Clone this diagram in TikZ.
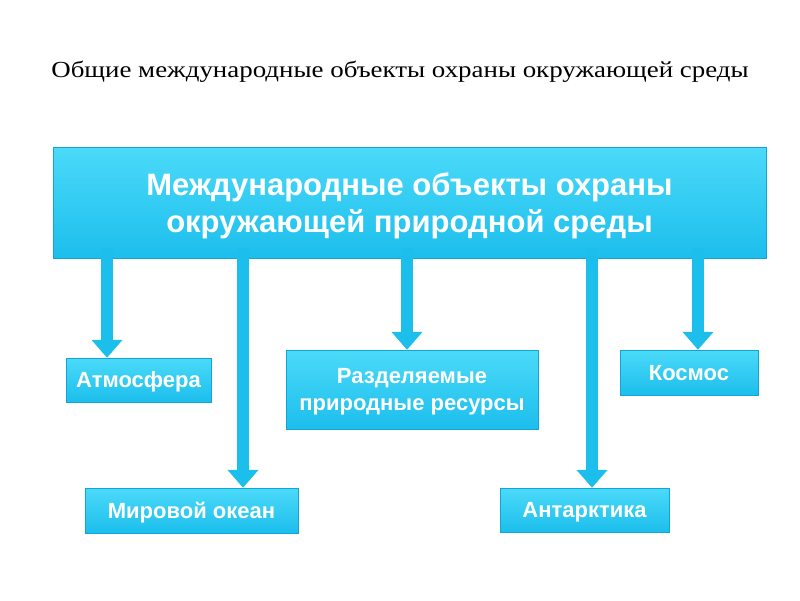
\documentclass[tikz,border=0pt]{standalone}
\usepackage{fontspec}
\setmainfont{Liberation Serif}
\setsansfont{Liberation Sans}
\usetikzlibrary{arrows.meta}
\definecolor{boxcyan}{RGB}{28,190,236}
\definecolor{boxlight}{RGB}{75,218,249}
\definecolor{boxdark}{RGB}{20,165,215}
\tikzset{ obj_box/.style = {rectangle, draw=boxdark, top color=boxlight, bottom color=boxcyan, text=white, font=\sffamily\bfseries\fontsize{22}{27}\selectfont, align=center, inner sep=0pt, text depth=0pt} }
\tikzset{ down_arrow/.style = {draw=boxcyan, line width=12pt, -{Triangle[width=30pt,length=18pt]}} }

\begin{document}
\begin{tikzpicture}[x=1pt,y=-1pt]
    \useasboundingbox (0,0) rectangle (800,600);
    \node[font=\fontsize{23}{27}\selectfont] (T) at (400, 72) {\scalebox{1.17}[1]{Общие международные объекты охраны окружающей среды}};
    \node[obj_box, minimum width=713pt, minimum height=111pt, font=\sffamily\bfseries\fontsize{31}{37}\selectfont] (M) at (409.5, 202.5) {Международные объекты охраны\\окружающей природной среды};
    \node[obj_box, minimum width=145pt, minimum height=44pt] (A) at (138.5, 380) {Атмосфера};
    \node[obj_box, minimum width=252pt, minimum height=79pt] (R) at (412, 389.5) {Разделяемые\\природные ресурсы};
    \node[obj_box, minimum width=138pt, minimum height=45pt] (K) at (689, 372.5) {Космос};
    \node[obj_box, minimum width=213pt, minimum height=45pt] (O) at (191.5, 510.5) {Мировой океан};
    \node[obj_box, minimum width=169pt, minimum height=44pt] (N) at (584.5, 510) {Антарктика};
    \coordinate (a1) at (107, 0);
    \coordinate (a2) at (243, 0);
    \coordinate (a3) at (407, 0);
    \coordinate (a4) at (592, 0);
    \coordinate (a5) at (698, 0);
    \draw[down_arrow] ([yshift=10pt]M.south -| a1) to (A.north -| a1);
    \draw[down_arrow] ([yshift=10pt]M.south -| a2) to (O.north -| a2);
    \draw[down_arrow] ([yshift=10pt]M.south -| a3) to (R.north -| a3);
    \draw[down_arrow] ([yshift=10pt]M.south -| a4) to (N.north -| a4);
    \draw[down_arrow] ([yshift=10pt]M.south -| a5) to (K.north -| a5);
\end{tikzpicture}
\end{document}
